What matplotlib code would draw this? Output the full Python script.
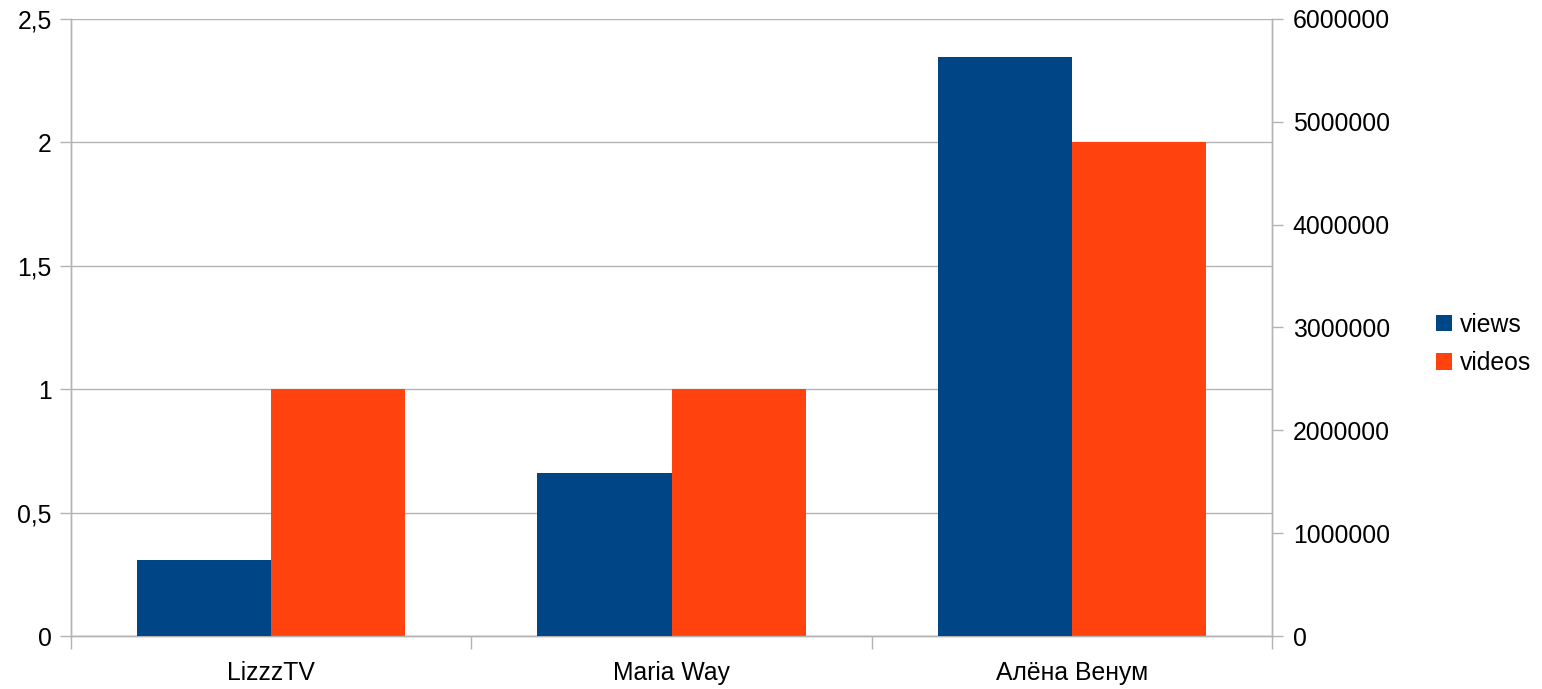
import matplotlib.pyplot as plt
import matplotlib.ticker as mticker
import numpy as np

plt.rcParams['font.family'] = ['Liberation Sans', 'DejaVu Sans']

# данные
channels = ['LizzzTV', 'Maria Way', 'Алёна Венум']
views = [739000, 1585000, 5630000]
videos = [1, 1, 2]

blue = '#004586'
orange = '#ff420e'
grey = '#b3b3b3'

fig = plt.figure(figsize=(15.42, 6.89), dpi=100)
ax = fig.add_axes([71 / 1542, 53 / 689, 1201 / 1542, 617 / 689])
ax2 = ax.twinx()

x = np.arange(len(channels))
w = 0.335

# videos на левой оси, views на правой
ax.bar(x + w / 2, videos, w, color=orange, label='videos', zorder=3)
ax2.bar(x - w / 2, views, w, color=blue, label='views', zorder=3)

ax.set_xlim(-0.5, len(channels) - 0.5)
ax.set_ylim(0, 2.5)
ax2.set_ylim(0, 6000000)
ax.set_yticks(np.arange(0, 2.51, 0.5))
ax2.set_yticks(np.arange(0, 6000001, 1000000))
ax.yaxis.set_major_formatter(mticker.FuncFormatter(
    lambda v, p: ('%g' % v).replace('.', ',')))
ax2.yaxis.set_major_formatter(mticker.FuncFormatter(lambda v, p: '%d' % v))

ax.grid(axis='y', color=grey, linewidth=1, zorder=0)
ax.set_axisbelow(True)

fs = 17.8
ax.set_xticks(x)
ax.set_xticklabels(channels)
ax.set_xticks(np.arange(-0.5, len(channels), 1), minor=True)
ax.tick_params(axis='x', which='major', length=0, pad=18, labelsize=fs)
ax.tick_params(axis='x', which='minor', length=9, color=grey, width=1)
ax.tick_params(axis='y', length=8, color=grey, width=1, pad=6, labelsize=fs)
ax2.tick_params(axis='y', length=8, color=grey, width=1, pad=7, labelsize=fs)

for a in (ax, ax2):
    a.spines['top'].set_visible(False)
    for s in ('left', 'right', 'bottom'):
        a.spines[s].set_color(grey)
        a.spines[s].set_linewidth(1)

# легенда справа
h1, l1 = ax2.get_legend_handles_labels()
h2, l2 = ax.get_legend_handles_labels()
fig.legend(h1 + h2, l1 + l2, loc='center left',
           bbox_to_anchor=(1424 / 1542, 1 - 344 / 689), frameon=False,
           fontsize=fs, handlelength=0.65, handleheight=0.65,
           handletextpad=0.3, labelspacing=0.6, borderpad=0)

fig.savefig('out.png', dpi=100)
